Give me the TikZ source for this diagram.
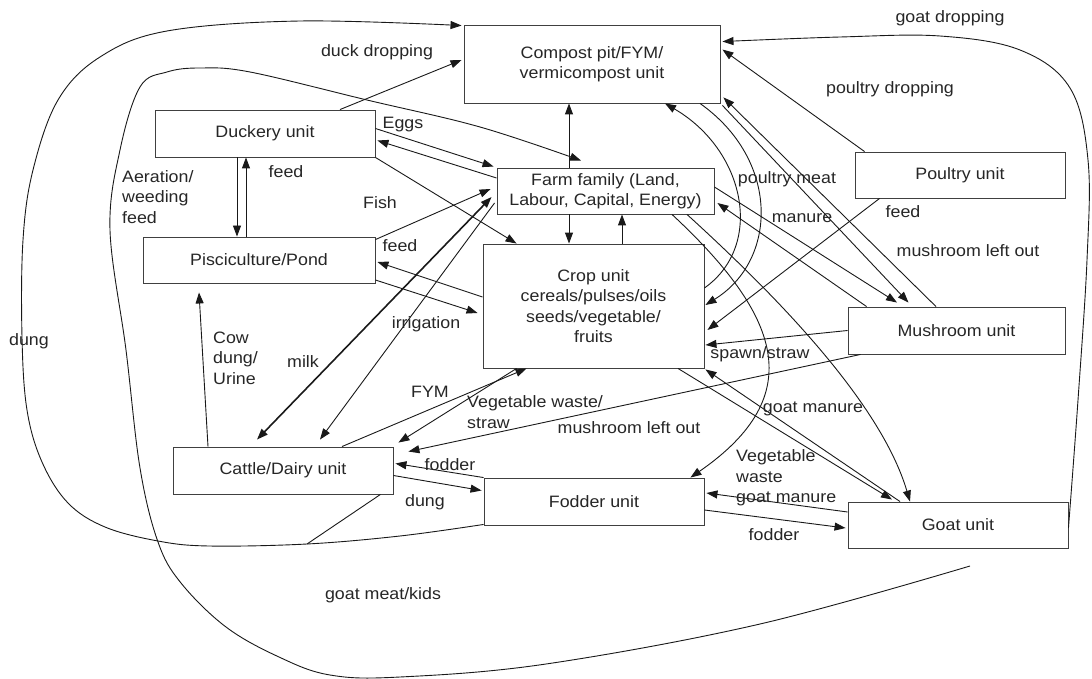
\documentclass[tikz,border=0pt]{standalone}
\usepackage{fontspec}
\setmainfont{Liberation Sans}[FakeStretch=1.08]
\usetikzlibrary{arrows.meta,calc}
\begin{document}
\begin{tikzpicture}[x=1pt,y=-1pt,
  >={Triangle[length=11pt,width=8pt]},
  every node/.style={font=\fontsize{16.5}{20.5}\selectfont, text=black!85},
  unit/.style={draw=black!75, line width=0.9pt, inner sep=0pt, align=center},
  conn/.style={draw=black!90, line width=0.9pt, ->},
  plain/.style={draw=black!90, line width=0.9pt},
  lab/.style={inner sep=0pt}]
\useasboundingbox (0,0) rectangle (1092,679);

% units
\node[unit, minimum width=256pt, minimum height=78pt] (compost) at (592,64) {Compost pit/FYM/\\vermicompost unit};
\node[unit, minimum width=220pt, minimum height=47pt] (duckery) at (265,133.5) {Duckery unit};
\node[unit, minimum width=217pt, minimum height=46pt] (family) at (605.5,191) {Farm family (Land,\\Labour, Capital, Energy)};
\node[unit, minimum width=210pt, minimum height=46pt] (poultry) at (960,175) {Poultry unit};
\node[unit, minimum width=232pt, minimum height=46pt] (pisc) at (259,260) {Pisciculture/Pond};
\node[unit, minimum width=221pt, minimum height=124pt] (crop) at (593.5,306) {Crop unit\\cereals/pulses/oils\\seeds/vegetable/\\fruits};
\node[unit, minimum width=217pt, minimum height=47pt] (mushroom) at (956.5,330.5) {Mushroom unit};
\node[unit, minimum width=220pt, minimum height=47pt] (cattle) at (283,470.5) {Cattle/Dairy unit};
\node[unit, minimum width=220pt, minimum height=47pt] (fodder) at (594,501.5) {Fodder unit};
\node[unit, minimum width=220pt, minimum height=46pt] (goat) at (958,525) {Goat unit};

% free ends and joins
\coordinate (gd0) at ([yshift=-3pt]goat.east);
\coordinate (gd1) at ([xshift=2pt,yshift=-17pt]compost.north east);
\coordinate (dung0) at ([yshift=1pt]fodder.south west);
\coordinate (dung1) at ([xshift=-2pt,yshift=-1pt]compost.north west);
\coordinate (dungjoin) at (307,544);
\coordinate (gm0) at (970,566);
\coordinate (gm1) at ([xshift=-24.5pt,yshift=7pt]family.north);

% duckery links
\draw[conn] ([xshift=75pt]duckery.north) -- ([xshift=-2pt,yshift=4pt]compost.west);
\draw[conn] ([yshift=5pt]duckery.east) -- ([xshift=-3pt,yshift=1pt]family.north west);
\draw[conn] ([yshift=13pt]family.west) -- ([xshift=2pt,yshift=-7pt]duckery.east);
\draw[conn] (duckery.south east) -- ([xshift=34pt]crop.north west);
\draw[conn] ([xshift=-28pt]duckery.south) -- ([xshift=-22pt]pisc.north);
\draw[conn] ([xshift=-13pt]pisc.north) -- ([xshift=-19pt]duckery.south);

% pisciculture links
\draw[conn] ([yshift=-3pt]pisc.north east) -- ([xshift=-6pt,yshift=2pt]family.west);
\draw[conn] ([yshift=9pt]crop.west) -- ([xshift=2pt,yshift=-2pt]pisc.east);
\draw[conn] ([yshift=-20pt]pisc.east) -- ([xshift=-5pt,yshift=-7pt]crop.west);

% family / compost / crop
\draw[conn] ([xshift=-36.5pt]family.north) -- ([xshift=-23pt]compost.south);
\draw[conn] ([xshift=-36.5pt]family.south) -- ([xshift=-24.5pt]crop.north);
\draw[conn] ([xshift=28.5pt]crop.north) -- ([xshift=16.5pt]family.south);
\draw[conn] ([yshift=18pt]crop.east) .. controls (765,245) and (745,150) .. ([xshift=73pt]compost.south);
\draw[conn] ([xshift=108pt]compost.south) .. controls (780,160) and (778,260) .. ([xshift=1pt,yshift=1pt]crop.east);
\draw[conn] ([xshift=66.5pt]family.south) .. controls (780,315) and (810,395) .. ([xshift=-14pt]fodder.north east);
\draw[conn] ([xshift=81.5pt]family.south) .. controls (770,290) and (880,400) .. ([xshift=-48pt]goat.north);

% mushroom links
\draw[conn] ([xshift=2pt,yshift=-2pt]compost.south east) -- ([xshift=-48pt,yshift=4pt]mushroom.north);
\draw[conn] ([xshift=-20.5pt]mushroom.north) -- ([xshift=3pt,yshift=6pt]compost.south east);
\draw[conn] ([yshift=4pt]family.east) -- ([xshift=-59.5pt,yshift=4pt]mushroom.north);
\draw[conn] ([xshift=19pt]mushroom.north west) -- ([xshift=3pt,yshift=-12pt]family.east);
\draw[conn] (mushroom.west) -- ([xshift=1pt,yshift=-39pt]crop.east);
\draw[conn] ([xshift=13pt]mushroom.south west) -- ([xshift=15pt,yshift=-5pt]cattle.north east);

% cattle links
\draw[conn] ([xshift=34pt]crop.south west) -- ([xshift=5pt,yshift=4pt]cattle.north east);
\draw[conn] ([xshift=59pt]cattle.north) -- ([xshift=44pt]crop.south west);
\draw[conn] (fodder.north west) -- ([xshift=2pt,yshift=7pt]cattle.east);
\draw[conn] ([yshift=-5pt]cattle.east) -- ([xshift=-2pt,yshift=11pt]fodder.west);
\draw[conn] ([xshift=-75pt]cattle.north) -- ([xshift=-60pt,yshift=-9pt]pisc.south);
\draw[conn, <->, line width=1.6pt] ([xshift=-5pt,yshift=-6pt]family.west) -- ([xshift=-26pt,yshift=7pt]cattle.north);
\draw[conn] ([xshift=-2pt,yshift=-12pt]family.west) -- ([xshift=37pt,yshift=7pt]cattle.north);

% goat links
\draw[conn] ([xshift=84.5pt]crop.south) -- ([xshift=-66pt,yshift=2pt]goat.north);
\draw[conn] ([xshift=-58pt]goat.north) -- ([xshift=1pt,yshift=-1pt]crop.south east);
\draw[conn] ([yshift=13pt]goat.west) -- ([xshift=2pt,yshift=8.5pt]fodder.east);
\draw[conn] ([yshift=-8.5pt]fodder.east) -- ([xshift=-2pt,yshift=-3pt]goat.west);

% poultry links
\draw[conn] ([xshift=10pt]poultry.north west) -- ([xshift=2pt,yshift=-25pt]compost.north east);
\draw[conn] ([xshift=25pt]poultry.south west) -- ([xshift=3pt,yshift=-24pt]crop.east);

% long curves
\draw[conn] plot[smooth, tension=0.6] coordinates {(gd0) (1078,400) (1087,260) (1088,160) (1070,88) (1020,50) (940,36) (840,37) (gd1)};
\draw[conn] plot[smooth, tension=0.6] coordinates {(dung0) (400,536) (dungjoin) (209,546) (158,541) (105,527) (68,503) (42,462) (27,410) (22,337) (23,240) (33,170) (58,100) (100,57) (167,31) (300,21) (dung1)};
\draw[plain] ([xshift=-13pt]cattle.south east) -- (dungjoin);
\draw[conn] plot[smooth, tension=0.6] coordinates {(gm0) (760,624) (546,664) (400,677) (330,675) (279,657) (226,627) (181,583) (158,542) (140,468) (126,350) (110,230) (120,150) (140,87) (167,72) (200,68) (250,72) (367,100) (480,127) (gm1)};

% labels
\node[lab] at (950,18) {goat dropping};
\node[lab] at (377,52) {duck dropping};
\node[lab] at (890,89) {poultry dropping};
\node[lab] at (403,125) {Eggs};
\node[lab] at (286,172) {feed};
\node[lab, anchor=west, align=left] at (122,197) {Aeration/\\weeding\\feed};
\node[lab] at (380,203) {Fish};
\node[lab] at (400,246) {feed};
\node[lab] at (426,324) {irrigation};
\node[lab] at (29,341) {dung};
\node[lab, anchor=west, align=left] at (213,358) {Cow\\dung/\\Urine};
\node[lab] at (303,362) {milk};
\node[lab] at (430,392) {FYM};
\node[lab, anchor=west, align=left] at (467,412) {Vegetable waste/\\straw};
\node[lab] at (629,428) {mushroom left out};
\node[lab] at (760,354) {spawn/straw};
\node[lab] at (813,409) {goat manure};
\node[lab, anchor=west, align=left] at (736,478) {Vegetable\\waste\\goat manure};
\node[lab] at (774,535) {fodder};
\node[lab] at (450,465) {fodder};
\node[lab] at (425,502) {dung};
\node[lab] at (383,595) {goat meat/kids};
\node[lab] at (787,179) {poultry meat};
\node[lab] at (802,218) {manure};
\node[lab] at (903,212) {feed};
\node[lab] at (968,251) {mushroom left out};
\end{tikzpicture}
\end{document}
